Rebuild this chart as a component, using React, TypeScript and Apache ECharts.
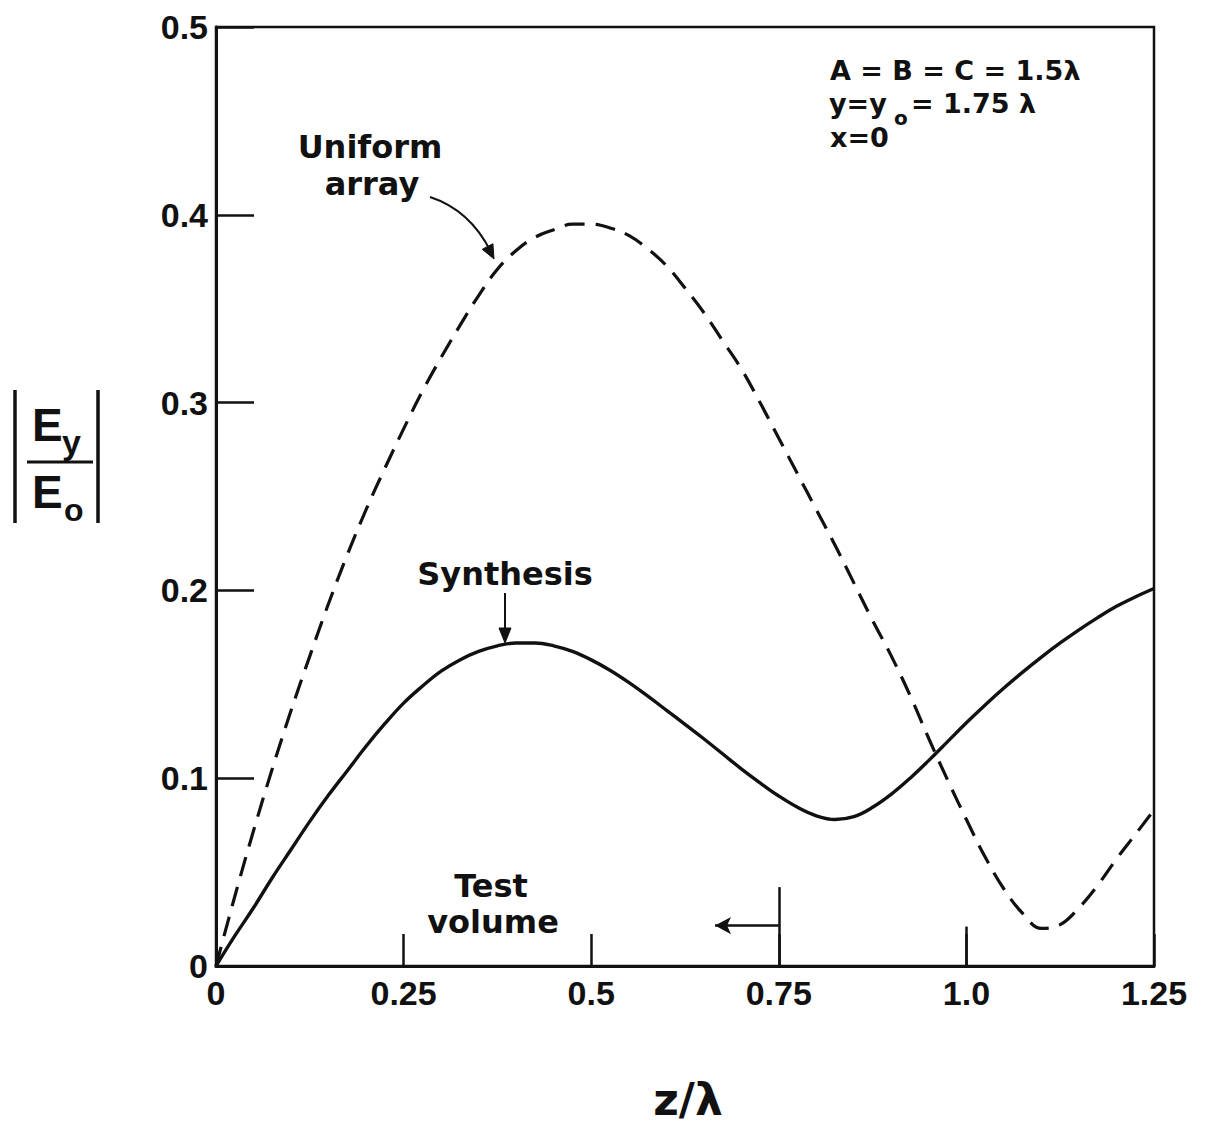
import React, { useEffect, useRef } from "react";
import * as echarts from "echarts";

// z/λ sample positions
const zValues = [
  0, 0.025, 0.05, 0.075, 0.1, 0.125, 0.15, 0.175, 0.2, 0.225, 0.25, 0.275, 0.3, 0.325, 0.35, 0.375,
  0.4, 0.425, 0.45, 0.475, 0.5, 0.525, 0.55, 0.575, 0.6, 0.625, 0.65, 0.675, 0.7, 0.725, 0.75, 0.775,
  0.8, 0.825, 0.85, 0.875, 0.9, 0.925, 0.95, 0.975, 1.0, 1.025, 1.05, 1.075, 1.1, 1.125, 1.15, 1.175,
  1.2, 1.225, 1.25,
];

// |Ey/Eo| for the uniform array (dashed)
const uniformArray = [
  0, 0.037, 0.072, 0.105, 0.136, 0.165, 0.193, 0.219, 0.243, 0.265, 0.286, 0.306, 0.324, 0.341, 0.357, 0.371,
  0.381, 0.388, 0.392, 0.395, 0.395, 0.393, 0.389, 0.382, 0.373, 0.361, 0.348, 0.333, 0.318, 0.3, 0.281, 0.262,
  0.243, 0.224, 0.204, 0.184, 0.165, 0.144, 0.121, 0.099, 0.078, 0.058, 0.041, 0.028, 0.02, 0.022, 0.031, 0.043,
  0.057, 0.07, 0.083,
];

// |Ey/Eo| for the synthesis (solid)
const synthesis = [
  0, 0.016, 0.031, 0.047, 0.062, 0.077, 0.091, 0.104, 0.117, 0.129, 0.14, 0.149, 0.157, 0.163, 0.1675, 0.1705,
  0.172, 0.172, 0.1705, 0.1675, 0.163, 0.1575, 0.151, 0.1438, 0.1363, 0.1287, 0.121, 0.113, 0.105, 0.0975, 0.0905, 0.0845,
  0.08, 0.078, 0.0795, 0.0845, 0.0915, 0.1, 0.1095, 0.1195, 0.1295, 0.139, 0.148, 0.1565, 0.1645, 0.172, 0.179, 0.1855,
  0.1915, 0.1965, 0.201,
];

const xTickLabels = ["0", "0.25", "0.5", "0.75", "1.0", "1.25"];
const yTickLabels = ["0", "0.1", "0.2", "0.3", "0.4", "0.5"];

const testVolumeEdge = 0.75;
const testVolumeMarkerTop = 0.042;
const testVolumeArrowY = 0.0215;
const testVolumeArrowEnd = 0.665;
const longTickAt = 1.0;
const longTickTop = 0.021;

const TICK_FONT = "'Liberation Sans', Arial, sans-serif";
const ANN_FONT = "'DejaVu Sans', sans-serif";
const INK = "#111";

export default function App() {
  const ref = useRef<HTMLDivElement>(null);

  useEffect(() => {
    if (!ref.current) return;
    const chart = echarts.init(ref.current, null, { renderer: "svg" });

    const uniformData = zValues.map((z, i) => [z, uniformArray[i]]);
    const synthData = zValues.map((z, i) => [z, synthesis[i]]);

    const txt = (
      text: string,
      x: number,
      y: number,
      size: number,
      align: string = "left",
      lineHeight: number = size,
      family: string = ANN_FONT
    ) => ({
      type: "text",
      x,
      y,
      silent: true,
      style: {
        text,
        fill: INK,
        font: `bold ${size}px ${family}`,
        lineHeight,
        align,
        verticalAlign: "middle",
      },
    });

    const line = (x1: number, y1: number, x2: number, y2: number, w = 3) => ({
      type: "line",
      silent: true,
      shape: { x1, y1, x2, y2 },
      style: { stroke: INK, lineWidth: w },
    });

    const option: any = {
      animation: false,
      backgroundColor: "#fff",
      grid: {
        left: 216,
        right: 54,
        top: 27,
        bottom: 160,
        show: true,
        borderColor: INK,
        borderWidth: 2.5,
        backgroundColor: "transparent",
      },
      xAxis: {
        type: "value",
        min: 0,
        max: 1.25,
        interval: 0.25,
        splitLine: { show: false },
        axisLine: { show: true, onZero: false, lineStyle: { color: INK, width: 3 } },
        axisTick: { show: true, inside: true, length: 32, lineStyle: { color: INK, width: 2.5 } },
        axisLabel: {
          margin: 10,
          color: INK,
          fontFamily: TICK_FONT,
          fontWeight: "bold",
          fontSize: 34,
          formatter: (v: number) => xTickLabels[Math.round(v / 0.25)] ?? String(v),
        },
      },
      yAxis: {
        type: "value",
        min: 0,
        max: 0.5,
        interval: 0.1,
        splitLine: { show: false },
        axisLine: { show: true, onZero: false, lineStyle: { color: INK, width: 3 } },
        axisTick: { show: true, inside: true, length: 38, lineStyle: { color: INK, width: 2.5 } },
        axisLabel: {
          margin: 8,
          color: INK,
          fontFamily: TICK_FONT,
          fontWeight: "bold",
          fontSize: 34,
          formatter: (v: number) => yTickLabels[Math.round(v * 10)] ?? String(v),
        },
      },
      series: [
        {
          name: "Uniform array",
          type: "line",
          data: uniformData,
          smooth: 0.4,
          showSymbol: false,
          symbol: "none",
          lineStyle: { color: INK, width: 3.2, type: [20, 11] },
          z: 3,
        },
        {
          name: "Synthesis",
          type: "line",
          data: synthData,
          smooth: 0.4,
          showSymbol: false,
          symbol: "none",
          lineStyle: { color: INK, width: 3.4, type: "solid" },
          z: 4,
          markLine: {
            silent: true,
            animation: false,
            label: { show: false },
            lineStyle: { color: INK, width: 2.5, type: "solid" },
            data: [
              [
                { coord: [testVolumeEdge, 0], symbol: "none" },
                { coord: [testVolumeEdge, testVolumeMarkerTop], symbol: "none" },
              ],
              [
                { coord: [longTickAt, 0], symbol: "none" },
                { coord: [longTickAt, longTickTop], symbol: "none" },
              ],
              [
                { coord: [testVolumeEdge, testVolumeArrowY], symbol: "none" },
                { coord: [testVolumeArrowEnd, testVolumeArrowY], symbol: "arrow", symbolSize: [13, 16] },
              ],
            ],
          },
        },
      ],
      graphic: [
        // Y-axis name |Ey / Eo|
        line(15, 390, 15, 523, 3.5),
        line(98, 390, 98, 523, 3.5),
        line(27, 462, 93, 462, 3),
        txt("E", 32, 425, 46, "left", 46, TICK_FONT),
        txt("y", 62, 442, 34, "left", 30, TICK_FONT),
        txt("E", 32, 492, 46, "left", 46, TICK_FONT),
        txt("o", 64, 510, 32, "left", 26, TICK_FONT),

        // Parameters box
        txt("A = B = C = 1.5λ", 830, 70, 27, "left", 27),
        txt("y=y", 829, 103, 27, "left", 27),
        txt("o", 894, 118, 20, "left", 14),
        txt("= 1.75 λ", 911, 103, 27, "left", 27),
        txt("x=0", 830, 137, 27, "left", 24),

        // Uniform array label + curved arrow
        txt("Uniform", 370, 147, 32, "center", 32),
        txt("array", 372, 184, 32, "center", 32),
        {
          type: "bezierCurve",
          silent: true,
          shape: { x1: 430, y1: 197, x2: 491, y2: 252, cpx1: 470, cpy1: 210 },
          style: { stroke: INK, lineWidth: 2, fill: "none" },
        },
        {
          type: "polygon",
          silent: true,
          shape: { points: [[494, 259], [492.9, 243.7], [482.3, 249.3]] },
          style: { fill: INK, stroke: INK, lineWidth: 1 },
        },

        // Synthesis label + arrow
        txt("Synthesis", 505, 574, 32, "center", 32),
        line(505, 593, 505, 638, 2),
        {
          type: "polygon",
          silent: true,
          shape: { points: [[505, 643], [499, 628], [511, 628]] },
          style: { fill: INK, stroke: INK, lineWidth: 1 },
        },

        // Test volume label
        txt("Test", 491, 886, 32, "center", 32),
        txt("volume", 493, 922, 32, "center", 32),

        // X-axis name
        txt("z/λ", 688, 1099, 44, "center", 44),
      ],
    };

    chart.setOption(option);
    return () => chart.dispose();
  }, []);

  return (
    <div
      ref={ref}
      style={{ position: "absolute", left: 0, top: 0, width: 1208, height: 1126, background: "#fff" }}
    />
  );
}
